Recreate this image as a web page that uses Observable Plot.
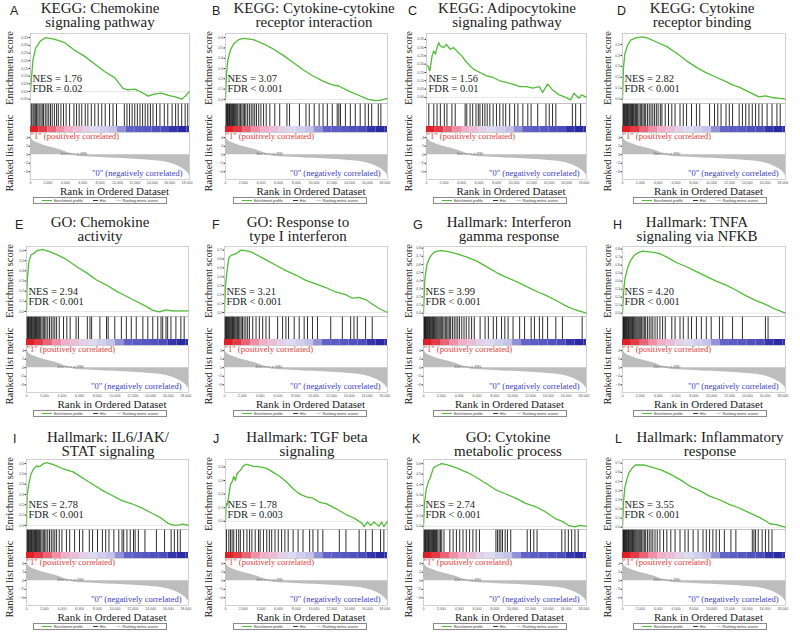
<!DOCTYPE html>
<html><head><meta charset="utf-8">
<script src="https://cdn.jsdelivr.net/npm/d3@7"></script>
<script src="https://cdn.jsdelivr.net/npm/@observablehq/plot@0.6"></script>
<style>
html,body{margin:0;padding:0;background:#fff;}
#root{position:relative;width:800px;height:637px;overflow:hidden;background:#fff;font-family:"Liberation Serif","Times New Roman",serif;color:#222;}
#root svg{overflow:visible;}
.title{position:absolute;font-size:15px;line-height:13.5px;text-align:center;white-space:nowrap;transform:translateX(-50%);}
.letter{position:absolute;font-family:"Liberation Sans",Arial,sans-serif;font-size:12.5px;line-height:12px;}
.vlab{position:absolute;font-size:10.5px;line-height:11px;white-space:nowrap;transform:translate(-50%,-50%) rotate(-90deg);}
.xlab{position:absolute;font-size:11px;line-height:10px;white-space:nowrap;transform:translateX(-50%);}
.legend{position:absolute;height:7px;border:0.6px solid #8a8a8a;box-sizing:border-box;display:flex;align-items:center;justify-content:space-around;font-family:"Liberation Sans",Arial,sans-serif;font-size:3.6px;color:#333;white-space:nowrap;padding:0 3px;}
.legend span.sw{display:inline-block;height:0;border-top:1px solid;margin-right:2px;vertical-align:middle;}
</style></head>
<body><div id="root"></div>
<script>
// ---------- data ----------
const letters = ["A","B","C","D","E","F","G","H","I","J","K","L"];
const titles = [
  ["KEGG: Chemokine","signaling pathway"],
  ["KEGG: Cytokine-cytokine","receptor interaction"],
  ["KEGG: Adipocytokine","signaling pathway"],
  ["KEGG: Cytokine","receptor binding"],
  ["GO: Chemokine","activity"],
  ["GO: Response to","type I interferon"],
  ["Hallmark: Interferon","gamma response"],
  ["Hallmark: TNFA","signaling via NFKB"],
  ["Hallmark: IL6/JAK/","STAT signaling"],
  ["Hallmark: TGF beta","signaling"],
  ["GO: Cytokine","metabolic process"],
  ["Hallmark: Inflammatory","response"]
];
const nesValues = ["1.76","3.07","1.56","2.82","2.94","3.21","3.99","4.20","2.78","1.78","2.74","3.55"];
const fdrTexts = ["= 0.02","< 0.001","= 0.01","< 0.001","< 0.001","< 0.001","< 0.001","< 0.001","< 0.001","= 0.003","< 0.001","< 0.001"];

const esA = [[0,0],[77,0.06],[271,0.2],[581,0.28],[1161,0.33],[1742,0.35],[2710,0.34],[3871,0.32],[5032,0.27],[6194,0.23],[7355,0.18],[8516,0.13],[9677,0.09],[10645,0.02],[11226,0.01],[12000,0.015],[12774,-0.005],[13548,-0.03],[14323,-0.015],[15097,-0.01],[15871,-0.025],[16645,-0.035],[17419,-0.05],[17806,-0.03],[18300,0.0]];
const esB = [[0,0],[111,0.24],[260,0.38],[557,0.48],[928,0.54],[1484,0.58],[2041,0.593],[3154,0.58],[4268,0.54],[5381,0.49],[6494,0.43],[7608,0.36],[8721,0.29],[9834,0.23],[10947,0.18],[12061,0.14],[12803,0.13],[13917,0.08],[15030,0.04],[16143,0.0],[16885,-0.013],[17442,-0.01],[18300,0.01]];
const esC = [[0,0.19],[151,0.19],[377,0.16],[642,0.25],[830,0.28],[1019,0.26],[1208,0.30],[1396,0.33],[1585,0.31],[1962,0.30],[2264,0.32],[2717,0.29],[3095,0.30],[3472,0.28],[4038,0.25],[4604,0.21],[5359,0.17],[6114,0.15],[6869,0.13],[7623,0.12],[8378,0.10],[9133,0.09],[9888,0.08],[10642,0.065],[11397,0.065],[12152,0.055],[12907,0.065],[13284,0.03],[13851,0.08],[14417,0.045],[15171,0.015],[15926,0.0],[16492,-0.015],[16870,0.025],[17436,-0.005],[17738,0.015],[18300,0]];
const esD = [[0,0],[111,0.29],[258,0.41],[553,0.49],[922,0.54],[1476,0.56],[2213,0.57],[2767,0.56],[3873,0.52],[4980,0.48],[6087,0.42],[7194,0.35],[8300,0.29],[9407,0.24],[10514,0.20],[11620,0.16],[12358,0.13],[13096,0.11],[13834,0.08],[14572,0.05],[15309,0.02],[16047,0.03],[16785,0.015],[17523,0.01],[18300,0]];
const esE = [[0,0],[75,0.30],[261,0.49],[523,0.56],[821,0.57],[1195,0.60],[1755,0.61],[2315,0.60],[3435,0.56],[4555,0.51],[5676,0.44],[6796,0.38],[7916,0.31],[9036,0.26],[10156,0.20],[11277,0.15],[12397,0.10],[13517,0.05],[14264,0.01],[15011,-0.005],[15757,0.015],[16504,0.005],[17251,0.005],[18300,0.005]];
const esF = [[0,0],[112,0.30],[261,0.45],[485,0.61],[745,0.64],[1304,0.66],[1864,0.70],[2423,0.69],[2982,0.68],[3541,0.65],[4659,0.59],[5777,0.53],[6895,0.47],[8013,0.42],[9131,0.36],[10249,0.32],[11367,0.28],[12485,0.23],[13604,0.20],[14349,0.16],[15094,0.17],[15840,0.145],[16585,0.095],[17331,0.045],[18300,0]];
const esG = [[0,0],[148,0.42],[370,0.59],[628,0.67],[998,0.73],[1367,0.76],[1922,0.77],[2661,0.76],[3770,0.73],[4879,0.69],[5988,0.64],[7096,0.57],[8205,0.50],[9314,0.44],[10423,0.39],[11532,0.33],[12640,0.27],[13749,0.22],[14858,0.16],[15967,0.09],[17076,0.04],[18300,0]];
const esH = [[0,0],[111,0.25],[258,0.42],[553,0.56],[922,0.66],[1291,0.72],[1660,0.75],[2213,0.775],[2767,0.77],[3505,0.76],[4242,0.74],[4980,0.70],[6087,0.63],[7194,0.58],[8300,0.52],[9407,0.46],[10514,0.40],[11620,0.35],[12727,0.29],[13834,0.22],[14940,0.16],[16047,0.11],[17154,0.05],[18300,0]];
const esI = [[0,0],[74,0.29],[259,0.40],[517,0.50],[813,0.55],[1183,0.58],[1368,0.57],[1552,0.575],[1922,0.60],[2292,0.61],[3031,0.59],[4140,0.55],[5248,0.52],[6357,0.46],[7466,0.40],[8575,0.34],[9684,0.29],[10792,0.24],[11901,0.21],[13010,0.17],[14119,0.12],[15227,0.07],[15967,0.02],[16706,0.0],[17260,0.005],[17630,0.013],[18300,0]];
const esJ = [[0,0],[75,0.13],[186,0.12],[373,0.19],[559,0.27],[745,0.29],[932,0.33],[1118,0.30],[1304,0.35],[1677,0.375],[2050,0.41],[2423,0.42],[3168,0.405],[3913,0.40],[4659,0.39],[5404,0.36],[6150,0.33],[6895,0.29],[7640,0.24],[8386,0.20],[9131,0.18],[9877,0.17],[10622,0.14],[11367,0.13],[12113,0.105],[12858,0.08],[13604,0.05],[14349,0.03],[15094,0.0],[15467,-0.017],[15653,-0.04],[16026,-0.005],[16399,-0.03],[16772,-0.005],[17331,-0.037],[17629,-0.005],[17890,-0.04],[18300,0.0]];
const esK = [[0,0],[111,0.22],[296,0.35],[554,0.43],[739,0.46],[924,0.51],[1109,0.56],[1478,0.58],[2033,0.60],[2587,0.59],[3696,0.56],[4805,0.52],[5914,0.47],[7022,0.41],[8131,0.35],[9240,0.31],[10349,0.27],[11458,0.22],[12566,0.19],[13675,0.14],[14784,0.075],[15523,0.05],[16262,0.01],[17002,-0.005],[17556,0.01],[18300,0]];
const esL = [[0,0],[111,0.27],[258,0.43],[480,0.52],[738,0.60],[922,0.62],[1107,0.65],[1476,0.68],[2398,0.68],[3136,0.66],[4242,0.63],[5349,0.58],[6456,0.52],[7563,0.45],[8669,0.40],[9776,0.34],[10883,0.30],[11989,0.25],[13096,0.21],[14201,0.16],[15309,0.11],[16047,0.07],[16600,0.035],[17154,0.03],[17523,0.02],[18300,0]];

const hitsA = [50,150,300,420,560,700,850,1000,1200,1350,1500,1700,1900,2100,2300,2500,2750,3000,3200,3500,3800,4100,4500,5000,5300,5600,5900,6300,6600,7000,7400,7800,8200,8600,9100,9500,9900,10800,11100,11400,11700,12000,12300,12600,12900,13200,13500,13800,14100,14500,14900,15400,15800,16300,16700,17000,17400,17800,18100];
const hitsB = [20,80,150,220,300,380,450,530,620,700,800,900,1000,1100,1200,1300,1400,1550,1700,1850,2000,2150,2300,2500,2700,2900,3100,3300,3500,3750,4000,4300,4600,5010,5567,6123,6940,7236,8350,9092,9463,10020,10576,11022,11504,12061,12617,12803,12989,13545,14102,14659,15215,15772,16143,16514,17256,17553];
const hitsC = [264,830,1208,1585,2038,2340,2906,3283,4416,4604,4982,5284,5661,5925,6114,6416,6680,6944,7246,7623,8001,8378,8756,9058,9510,10077,10454,11020,11586,11964,12718,13662,14039,14417,14794,16681,17058,17625];
const hitsD = [20,90,160,240,320,400,480,560,650,740,830,920,1020,1120,1220,1320,1450,1580,1700,1850,2000,2150,2300,2450,2600,2800,3000,3200,3400,3600,3800,4000,4250,4427,4796,5165,5534,5902,6456,6825,7194,7747,8300,8669,9776,10329,10698,11067,11620,11989,12358,13096,13465,13834,14203,14572,14940,15309,15678,16232,16785,17338,17707];
const hitsE = [20,80,150,230,310,400,480,560,650,740,830,920,1020,1120,1230,1340,1460,1600,1750,1900,2050,2200,2400,2600,2800,3000,3200,3400,3700,4182,4555,4929,5601,5862,6871,7169,7356,8289,9036,9223,9970,10717,11277,11837,12397,13144,13704,14264,14824,15197,15384,15757,15944,16318,16878,17438,17811];
const hitsF = [20,80,150,220,300,380,460,540,630,720,810,900,1000,1100,1200,1320,1450,1580,1720,1870,2020,2200,2400,2600,2800,3168,3541,3913,4286,4659,5031,5963,6522,6895,7193,7827,8386,8945,9318,9877,10436,11926,13231,14163,14535,14908,15840,16585];
const hitsG = [15,60,110,170,230,300,370,440,520,600,680,760,850,940,1030,1120,1220,1320,1420,1530,1640,1760,1880,2000,2150,2300,2450,2600,2750,2900,3050,3250,3450,3650,3850,4050,4300,4550,4800,5100,5400,5700,6357,6911,7281,7836,8205,8760,9129,9499,10053,10793,11347,12086,12456,13010,13380,13934,14858,15597,17815];
const hitsH = [15,60,110,170,230,300,370,440,520,600,680,760,850,940,1030,1120,1220,1320,1420,1530,1640,1760,1880,2000,2150,2300,2450,2600,2800,3000,3200,3400,3650,3900,4200,4500,4800,5534,5902,6456,6825,7378,7747,8300,8854,9407,9960,10883,11251,12358,13465,16047,16342];
const hitsI = [20,80,150,230,310,400,480,560,650,740,830,920,1020,1120,1230,1340,1460,1600,1750,1900,2050,2200,2400,2600,2800,3000,3200,3400,3700,4000,4509,4879,5433,5988,6357,7096,7466,8020,8575,8944,9314,9868,10423,10793,10977,11347,11717,12086,12271,12640,13380,14673,15597,16336,16706,17076,17372];
const hitsJ = [112,373,559,745,932,1230,1491,1677,2050,2423,2721,2982,3354,3727,3913,4286,4659,4957,5218,5590,5963,6336,6709,7081,7640,8199,8758,9504,9877,10436,10995,12858,13604,15094,15840,16585,17517,17890];
const hitsK = [20,80,150,230,310,400,480,560,650,740,830,920,1020,1120,1230,1340,1460,1600,1750,1900,2050,2300,2957,3326,3696,4066,4435,4805,5174,5544,5914,6283,8131,8316,8501,8686,8870,9166,9425,9794,11642,12012,12382,12751,15523,15893,16262,16632,17002,17371];
const hitsL = [15,60,110,170,230,300,370,440,520,600,680,760,850,940,1030,1120,1220,1320,1420,1530,1640,1760,1880,2000,2150,2300,2450,2600,2800,3000,3200,3400,3650,3900,4200,4611,4980,5423,5902,6456,7009,7378,7932,8485,9038,9407,9776,10145,10514,10883,11436,12174,12727,14572,14756,14940,15236,15678,16047,16416,16785];

const esTicks = [
  [-0.05,0,0.05,0.1,0.15,0.2,0.25,0.3,0.35],
  [0,0.1,0.2,0.3,0.4,0.5,0.6],
  [0,0.05,0.1,0.15,0.2,0.25,0.3,0.35],
  [0,0.1,0.2,0.3,0.4,0.5],
  [0,0.1,0.2,0.3,0.4,0.5,0.6],
  [0,0.1,0.2,0.3,0.4,0.5,0.6,0.7],
  [0,0.1,0.2,0.3,0.4,0.5,0.6,0.7,0.8],
  [0,0.1,0.2,0.3,0.4,0.5,0.6,0.7,0.8],
  [0,0.1,0.2,0.3,0.4,0.5,0.6],
  [0,0.1,0.2,0.3,0.4],
  [0,0.1,0.2,0.3,0.4,0.5,0.6],
  [0,0.1,0.2,0.3,0.4,0.5,0.6,0.7]
];
const esTickFormats = [".2f",".1f",".2f",".1f",".1f",".1f",".1f",".1f",".1f",".1f",".1f",".1f"];
const esDomains = [[-0.078,0.377],[-0.04,0.64],[-0.037,0.385],[-0.04,0.60],[-0.05,0.64],[-0.045,0.74],[-0.04,0.82],[-0.041,0.833],[-0.04,0.64],[-0.06,0.455],[-0.03,0.64],[-0.025,0.74]];

const xTicks = [0,2000,4000,6000,8000,10000,12000,14000,16000,18000];
const metricTicks = [-4,-2,0,2,4];
const metricCurve = [[0,4.8],[100,3.9],[300,3.3],[600,2.9],[1000,2.6],[1500,2.2],[2000,1.9],[2800,1.5],[3500,1.1],[4200,0.6],[4700,0.25],[4980,0],[5200,-0.3],[6000,-0.45],[7000,-0.55],[8000,-0.65],[9000,-0.75],[10000,-0.85],[11000,-0.95],[12000,-1.05],[13000,-1.2],[14000,-1.35],[15000,-1.55],[15800,-1.85],[16500,-2.25],[17100,-2.75],[17600,-3.35],[18000,-4.0],[18300,-4.8]];
const zeroCross = 4980;
const barEdges = [0,1000,2000,3000,4000,5000,6000,7000,8000,9000,10000,11000,12000,13000,14000,15000,16000,17000,18000,18300];
const barLevels = [1,0.9,0.75,0.6,0.45,0.3,0.1,0,-0.05,-0.1,-0.3,-0.5,-0.55,-0.6,-0.65,-0.7,-0.9,-1,-0.95];

// ---------- layout ----------
const esSeries = [esA,esB,esC,esD,esE,esF,esG,esH,esI,esJ,esK,esL];
const hitSeries = [hitsA,hitsB,hitsC,hitsD,hitsE,hitsF,hitsG,hitsH,hitsI,hitsJ,hitsK,hitsL];
const XMAX = 18300;
const boxL = [30,225,426,622, 26,224,423,622, 26,225,423,622];
const boxR = [189,387,586,785, 188,387,586,785, 188,387,586,785];
const letterX = [10,212,408,617, 15,212,413,613, 13,213,412,615];
const titleX = [100,314,507,702, 100,298,509,697, 108,307,508,710];
const vlabX = [8.5,208,407.5,607];
const rowY = [0,213,426];
const titleDy = [0,1,2.3];
const serif = '"Liberation Serif","Times New Roman",serif';
const sans = '"Liberation Sans",Arial,sans-serif';
const green = "#52bb38";
const root = document.getElementById("root");
const ST = {background:"transparent", overflow:"visible"};
const commaFmt = d3.format(",");

function place(el, left, top){ el.style.position="absolute"; el.style.left=left+"px"; el.style.top=top+"px"; root.appendChild(el); return el; }
function div(cls, html){ const d=document.createElement("div"); d.className=cls; d.textContent=html; return d; }

letters.forEach((L, i) => {
  const r = Math.floor(i/4), c = i%4;
  const top = rowY[r];
  const bl = boxL[i], bw = boxR[i]-boxL[i];
  const ml = 14;

  place(div("letter", L), letterX[i], top + 5 + titleDy[r]);
  place(div("title", titles[i][0]), titleX[i], top + 2.2 + titleDy[r]);
  place(div("title", titles[i][1]), titleX[i], top + 16.2 + titleDy[r]);

  // Enrichment score panel
  const es = Plot.plot({
    width: bw + ml, height: 70, marginLeft: ml, marginRight: 0, marginTop: 0, marginBottom: 0,
    style: ST,
    x: {domain: [0, XMAX], axis: null},
    y: {domain: esDomains[i], axis: null},
    marks: [
      Plot.ruleY([0], {stroke: "#cfcfcf", strokeWidth: 0.5}),
      Plot.axisY({ticks: esTicks[i], tickFormat: d3.format(esTickFormats[i]), tickSize: 1.5, tickPadding: 1, fontSize: 3.5, fontFamily: sans, fill: "#555", label: null}),
      Plot.line(esSeries[i], {x: d => d[0], y: d => d[1], stroke: green, strokeWidth: 1.3}),
      Plot.text([`NES = ${nesValues[i]}\nFDR ${fdrTexts[i]}`], {frameAnchor: "bottom-left", lineAnchor: "bottom", textAnchor: "start", dx: 2, dy: -12, fontSize: 10.5, lineHeight: 0.95, fontFamily: serif, fill: "#222"}),
      Plot.frame({stroke: "#bdbdbd", strokeWidth: 0.7})
    ]
  });
  place(es, bl - ml, top + 33);

  // hits
  const hp = Plot.plot({
    width: bw, height: 23, margin: 0, style: ST,
    x: {domain: [0, XMAX], axis: null},
    marks: [
      Plot.ruleX(hitSeries[i], {stroke: "#161616", strokeWidth: 0.9}),
      Plot.frame({stroke: "#bdbdbd", strokeWidth: 0.7})
    ]
  });
  place(hp, bl, top + 103);

  // colour bar
  const bp = Plot.plot({
    width: bw, height: 6, margin: 0, style: ST,
    x: {domain: [0, XMAX], axis: null},
    color: {type: "linear", domain: [-1,-0.5,0,0.5,1], range: ["#2a2aa3","#6262c9","#dcdaf1","#f3a9c4","#df2027"]},
    marks: [
      Plot.barX(barLevels, {x1: (d, j) => barEdges[j], x2: (d, j) => barEdges[j+1], fill: d => d})
    ]
  });
  place(bp, bl, top + 126);

  // ranked list metric
  const mp = Plot.plot({
    width: bw + ml, height: 47 + 7, marginLeft: ml, marginRight: 0, marginTop: 0, marginBottom: 7,
    style: ST,
    x: {domain: [0, XMAX], axis: null},
    y: {domain: [-5.8, 5.2], axis: null},
    marks: [
      Plot.areaY(metricCurve, {x: d => d[0], y: d => d[1], fill: "#bdbdbd"}),
      Plot.text([`Zero cross at ${zeroCross}`], {x: zeroCross, y: 0, dy: -0.5, fontSize: 3.2, fontFamily: sans, fill: "#555"}),
      Plot.axisY({ticks: metricTicks, tickSize: 1.5, tickPadding: 1, fontSize: 3.8, fontFamily: sans, fill: "#555", label: null}),
      Plot.axisX({ticks: xTicks, tickFormat: commaFmt, tickSize: 0, tickPadding: 1.5, fontSize: 3.6, fontFamily: sans, fill: "#555", label: null}),
      Plot.text(['"1" (positively correlated)'], {frameAnchor: "top-left", lineAnchor: "top", textAnchor: "start", dx: 0, dy: 0, fontSize: 8.5, fontFamily: serif, fill: "#e23a36"}),
      Plot.text(['"0" (negatively correlated)'], {frameAnchor: "bottom-right", lineAnchor: "bottom", textAnchor: "end", dx: -7, dy: -4, fontSize: 8.5, fontFamily: serif, fill: "#3b3bc6"}),
      Plot.frame({stroke: "#bdbdbd", strokeWidth: 0.7})
    ]
  });
  place(mp, bl - ml, top + 132);

  place(div("vlab", "Enrichment score"), vlabX[c], top + 68);
  place(div("vlab", "Ranked list metric"), vlabX[c], top + 153);
  place(div("xlab", "Rank in Ordered Dataset"), bl + bw/2 + 5, top + 186);

  const lg = document.createElement("div");
  lg.className = "legend";
  lg.innerHTML =
    `<span><span class="sw" style="width:10px;border-color:${green}"></span>Enrichment profile</span>` +
    `<span><span class="sw" style="width:5px;border-color:#333"></span>Hits</span>` +
    `<span><span class="sw" style="width:5px;border-color:#ccc"></span>Ranking metric scores</span>`;
  lg.style.width = "134px";
  place(lg, c*200 + 33, top + 197);
});
</script>
</body></html>
